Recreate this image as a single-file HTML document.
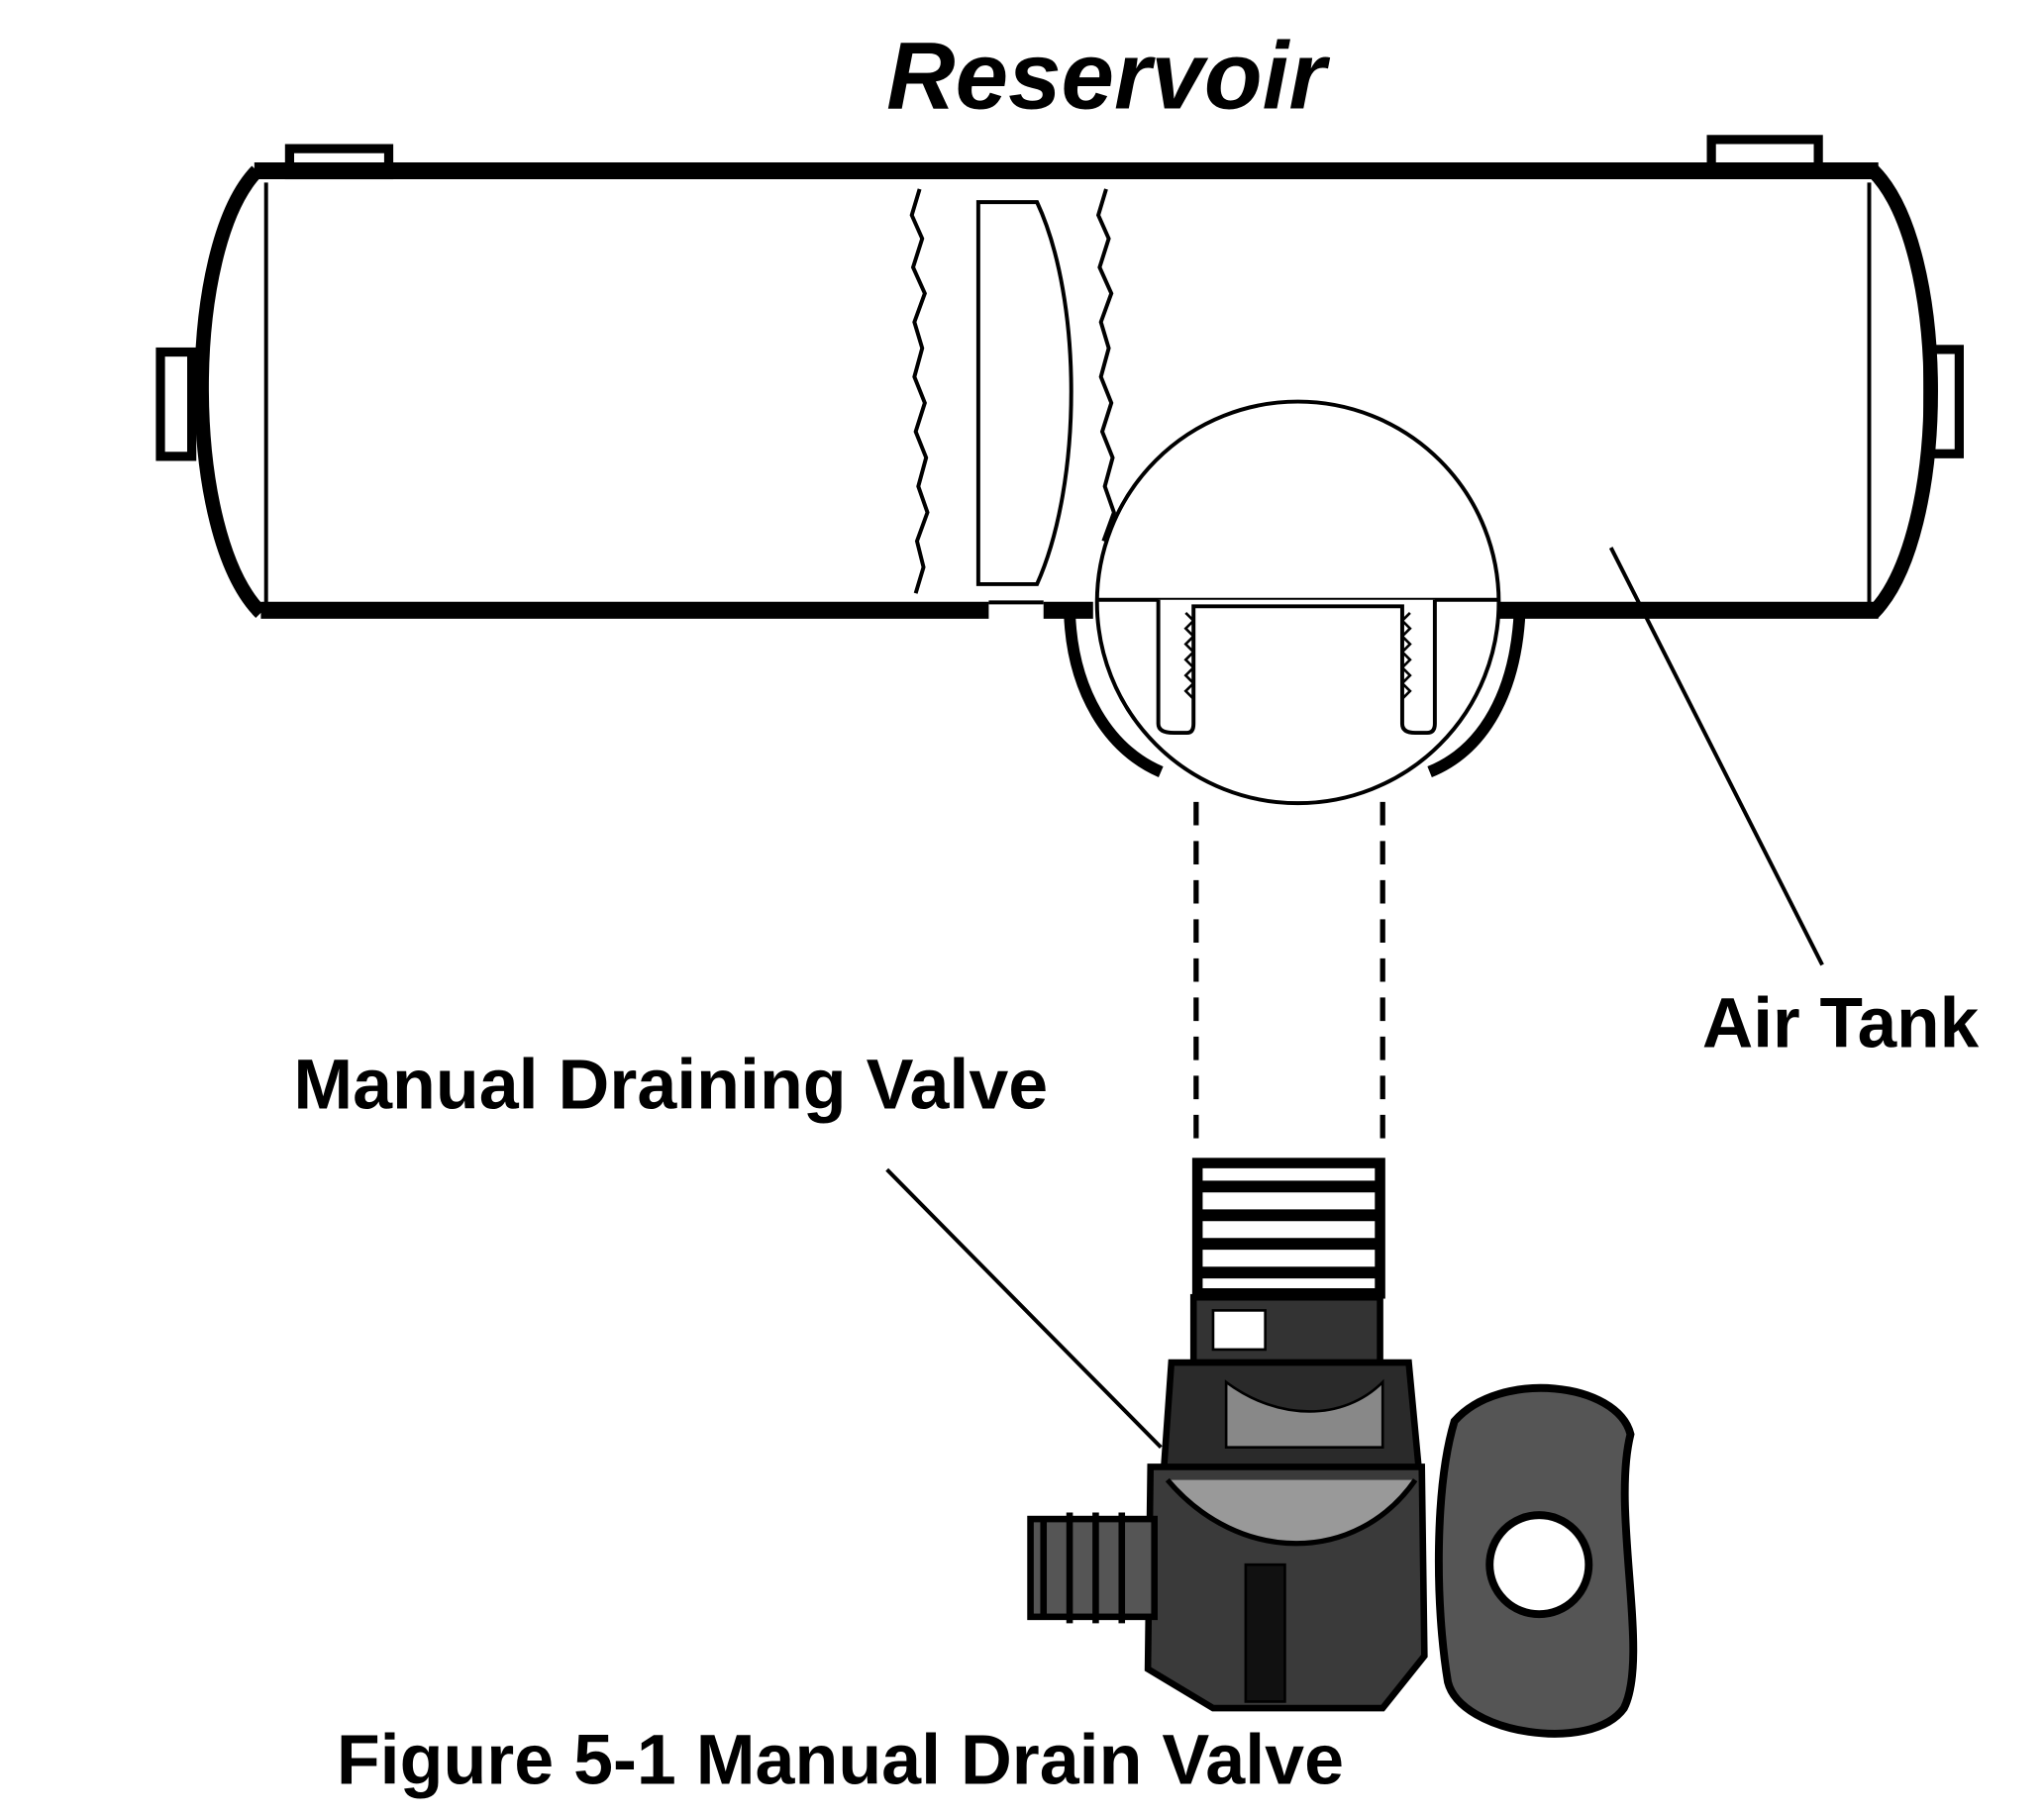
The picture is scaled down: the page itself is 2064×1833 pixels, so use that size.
<!DOCTYPE html>
<html><head><meta charset="utf-8"><style>
html,body{margin:0;padding:0;background:#fff;}
svg{display:block;}
text{font-family:"Liberation Sans",sans-serif;font-weight:bold;fill:#000;}
</style></head><body>
<svg width="2064" height="1833" viewBox="0 0 1567 1392" preserveAspectRatio="none" xmlns="http://www.w3.org/2000/svg">
<rect width="1567" height="1392" fill="#fff"/>
<text x="848" y="83" font-size="73" font-style="italic" text-anchor="middle">Reservoir</text>
<rect x="222" y="114" width="76" height="20" fill="#fff" stroke="#000" stroke-width="7"/>
<rect x="1312" y="107" width="82" height="26" fill="#fff" stroke="#000" stroke-width="7"/>
<rect x="123" y="270" width="24" height="80" fill="#fff" stroke="#000" stroke-width="7"/>
<rect x="1478" y="268" width="24" height="80" fill="#fff" stroke="#000" stroke-width="7"/>
<line x1="195" y1="131" x2="1440" y2="131" stroke="#000" stroke-width="13"/>
<line x1="200" y1="468" x2="758" y2="468" stroke="#000" stroke-width="13"/>
<line x1="800" y1="468" x2="838" y2="468" stroke="#000" stroke-width="13"/>
<line x1="1145" y1="468" x2="1440" y2="468" stroke="#000" stroke-width="13"/>
<line x1="758" y1="462" x2="800" y2="462" stroke="#000" stroke-width="3"/>
<path d="M197,131 C140,190 140,410 200,470" fill="none" stroke="#000" stroke-width="11"/>
<path d="M1436,131 C1495,190 1495,410 1436,470" fill="none" stroke="#000" stroke-width="11"/>
<line x1="204" y1="140" x2="204" y2="462" stroke="#000" stroke-width="3"/>
<line x1="1433" y1="140" x2="1433" y2="462" stroke="#000" stroke-width="3"/>
<path d="M705,145 l-6,20 8,18 -7,22 9,20 -8,22 6,20 -6,22 8,20 -7,22 8,20 -6,22 7,20 -8,22 5,20 -6,20" fill="none" stroke="#000" stroke-width="3"/>
<path d="M848,145 l-6,20 8,18 -7,22 9,20 -8,22 6,20 -6,22 8,20 -7,22 8,20 -6,22 7,20 -8,22" fill="none" stroke="#000" stroke-width="3"/>
<path d="M750,155 L795,155 C830,230 830,370 795,448 L750,448 Z" fill="#fff" stroke="#000" stroke-width="3"/>
<circle cx="995" cy="462" r="154" fill="#fff" stroke="#000" stroke-width="3"/>
<path d="M820,470 C822,530 850,575 890,592" fill="none" stroke="#000" stroke-width="9"/>
<path d="M1165,470 C1162,530 1138,575 1096,592" fill="none" stroke="#000" stroke-width="9"/>
<line x1="840" y1="460" x2="1150" y2="460" stroke="#000" stroke-width="3"/>
<path d="M888,460 L888,555 Q888,562 900,562 L910,562 Q915,562 915,555 L915,465 L1075,465 L1075,555 Q1075,562 1085,562 L1094,562 Q1100,562 1100,555 L1100,460" fill="#fff" stroke="#000" stroke-width="3"/>
<path d="M909,470 l6,6 -6,6 6,6 -6,6 6,6 -6,6 6,6 -6,6 6,6 -6,6 6,6" fill="none" stroke="#000" stroke-width="2"/>
<path d="M1081,470 l-6,6 6,6 -6,6 6,6 -6,6 6,6 -6,6 6,6 -6,6 6,6 -6,6" fill="none" stroke="#000" stroke-width="2"/>
<line x1="917" y1="615" x2="917" y2="882" stroke="#000" stroke-width="4" stroke-dasharray="18,12"/>
<line x1="1060" y1="615" x2="1060" y2="882" stroke="#000" stroke-width="4" stroke-dasharray="18,12"/>
<line x1="1235" y1="420" x2="1397" y2="740" stroke="#000" stroke-width="3"/>
<line x1="680" y1="897" x2="890" y2="1110" stroke="#000" stroke-width="3"/>
<text x="1305" y="803" font-size="54">Air Tank</text>
<text x="225" y="850" font-size="54.5">Manual Draining Valve</text>
<g stroke="#000">
<rect x="918" y="892" width="140" height="100" fill="#fff" stroke-width="8"/>
<g stroke-width="9"><line x1="918" y1="910" x2="1058" y2="910"/><line x1="918" y1="932" x2="1058" y2="932"/><line x1="918" y1="954" x2="1058" y2="954"/><line x1="918" y1="976" x2="1058" y2="976"/></g>
<rect x="915" y="995" width="143" height="50" fill="#333" stroke-width="5"/>
<rect x="930" y="1005" width="40" height="30" fill="#fff" stroke-width="2"/>
<path d="M898,1045 L1080,1045 L1088,1130 L892,1130 Z" fill="#2a2a2a" stroke-width="5"/>
<path d="M940,1060 C980,1090 1030,1090 1060,1060 L1060,1110 L940,1110 Z" fill="#888" stroke-width="2"/>
<path d="M882,1125 L1090,1125 L1092,1270 L1060,1310 L930,1310 L880,1280 Z" fill="#3a3a3a" stroke-width="5"/>
<path d="M895,1135 C950,1200 1040,1200 1085,1135" fill="#999" stroke-width="4"/>
<rect x="955" y="1200" width="30" height="105" fill="#111" stroke-width="2"/>
<rect x="790" y="1165" width="95" height="75" fill="#555" stroke-width="5"/>
<g stroke-width="5"><line x1="800" y1="1165" x2="800" y2="1240"/><line x1="820" y1="1160" x2="820" y2="1245"/><line x1="840" y1="1160" x2="840" y2="1245"/><line x1="860" y1="1160" x2="860" y2="1245"/></g>
<path d="M1115,1090 C1150,1050 1240,1060 1250,1100 C1235,1160 1265,1270 1245,1310 C1220,1345 1120,1330 1110,1290 C1100,1230 1100,1140 1115,1090 Z" fill="#555" stroke-width="6"/>
<circle cx="1180" cy="1200" r="38" fill="#fff" stroke-width="6"/>
</g>
<text x="258" y="1368" font-size="54.5">Figure 5-1 Manual Drain Valve</text>
</svg>
</body></html>
